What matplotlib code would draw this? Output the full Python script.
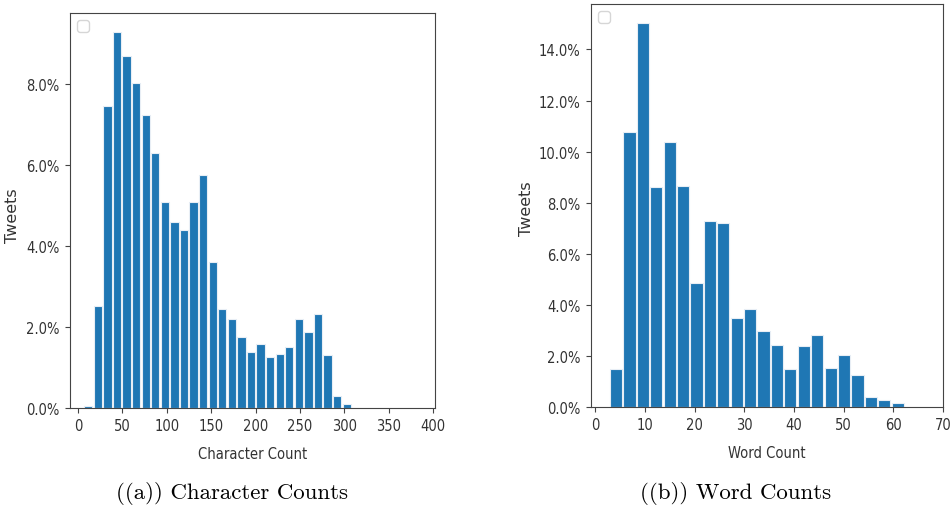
import numpy as np
import matplotlib
matplotlib.use("Agg")
import matplotlib.pyplot as plt
from matplotlib.ticker import PercentFormatter

# character count histogram (bin centres, % of tweets)
char_bins = [11.6, 22.4, 33.2, 43.9, 54.7, 65.5, 76.3, 87.1, 97.9, 108.6,
             119.4, 130.2, 141.0, 151.8, 162.5, 173.3, 184.1, 194.9, 205.7, 216.4,
             227.2, 238.0, 248.8, 259.6, 270.4, 281.1, 291.9, 302.7]
char_pct = [0.05, 2.52, 7.46, 9.28, 8.68, 8.02, 7.22, 6.29, 5.07, 4.59,
            4.39, 5.07, 5.76, 3.61, 2.43, 2.19, 1.75, 1.39, 1.58, 1.26,
            1.34, 1.50, 2.19, 1.87, 2.32, 1.30, 0.29, 0.09]

# word count histogram
word_bins = [4.2, 6.9, 9.6, 12.3, 15.0, 17.7, 20.4, 23.1, 25.8, 28.5, 31.2,
             33.9, 36.6, 39.3, 42.0, 44.7, 47.4, 50.1, 52.8, 55.5, 58.2, 61.0]
word_pct = [1.47, 10.76, 15.03, 8.60, 10.37, 8.66, 4.87, 7.30, 7.22, 3.49, 3.82,
            2.97, 2.44, 1.47, 2.38, 2.83, 1.52, 2.03, 1.26, 0.41, 0.28, 0.14]

plt.rcParams['font.family'] = 'DejaVu Sans'
plt.rcParams['font.stretch'] = 'condensed'
plt.rcParams['font.size'] = 10.5

fig = plt.figure(figsize=(9.52, 5.06), dpi=100)
ax1 = fig.add_axes([0.0735, 0.1917, 0.3834, 0.7806])
ax2 = fig.add_axes([0.6205, 0.1937, 0.3704, 0.7964])

blue = '#1f77b4'
ax1.bar(char_bins, char_pct, width=9.4, color=blue, edgecolor='#e8eef5', linewidth=0.8)
ax1.set_xlim(-9, 402)
ax1.set_xticks(np.arange(0, 401, 50))
ax1.set_yticks([0, 2, 4, 6, 8])
ax1.set_xlabel('Character Count', labelpad=9)
ax1.set_ylabel('Tweets', fontsize=11.5, stretch='normal')
ax1.yaxis.set_label_coords(-0.137, 0.49)

ax2.bar(word_bins, word_pct, width=2.45, color=blue, edgecolor='#e8eef5', linewidth=0.8)
ax2.set_xlim(-0.9, 70.1)
ax2.set_xticks(np.arange(0, 71, 10))
ax2.set_yticks([0, 2, 4, 6, 8, 10, 12, 14])
ax2.set_xlabel('Word Count', labelpad=9)
ax2.set_ylabel('Tweets', fontsize=11.5, stretch='normal')
ax2.yaxis.set_label_coords(-0.161, 0.495)

for ax in (ax1, ax2):
    ax.yaxis.set_major_formatter(PercentFormatter(decimals=1))
    ax.set_ylim(bottom=0)
    for s in ax.spines.values():
        s.set_color('#444444')
    ax.tick_params(colors='#444444', labelcolor='#333333', pad=4)
    ax.xaxis.label.set_color('#333333')
    ax.yaxis.label.set_color('#333333')
    ax.legend(handles=[], loc='upper left')

fig.text(0.2435, 0.024, '((a)) Character Counts', ha='center', va='center',
         fontsize=16.5, family='cmr10', stretch='normal')
fig.text(0.7725, 0.024, '((b)) Word Counts', ha='center', va='center',
         fontsize=16.5, family='cmr10', stretch='normal')

fig.savefig('out.png', dpi=100)
